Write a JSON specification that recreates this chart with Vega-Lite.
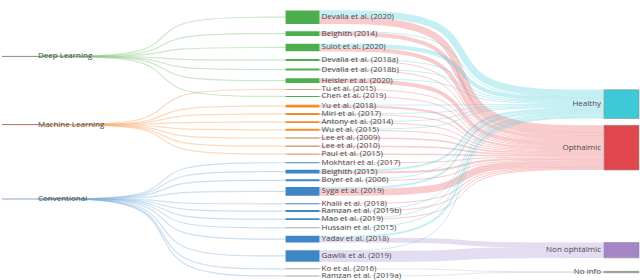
{
"$schema":"https://vega.github.io/schema/vega-lite/v6.json",
"width":640,"height":280,"padding":0,
"autosize":{"type":"fit","contains":"padding"},
"background":"white",
"config":{"view":{"stroke":null},"font":"Open Sans"},
"resolve":{"scale":{"color":"independent"}},
"datasets":{
"cats":[
{"c":"Deep Learning","x0":2,"x1":38,"xe":40,"y":48.3},
{"c":"Machine Learning","x0":2,"x1":38,"xe":40,"y":119.3},
{"c":"Conventional","x0":2,"x1":38,"xe":40,"y":196.7}
],
"outs":[
{"o":"Healthy","x0":605,"x1":640,"y0":83,"y1":113,"yc":98},
{"o":"Opthalmic","x0":605,"x1":640,"y0":120,"y1":166.5,"yc":143.25},
{"o":"Non ophtalmic","x0":605,"x1":640,"y0":242,"y1":258,"yc":250},
{"o":"No info","x0":605,"x1":640,"y0":272,"y1":273.5,"yc":272.75}
],
"papers":[
{"p":"Devalla et al. (2020)","g":"DL","x0":286,"x1":320,"y0":0.5,"y1":14.5,"yc":7.5},
{"p":"Belghith (2014)","g":"DL","x0":286,"x1":320,"y0":22,"y1":27,"yc":24.5},
{"p":"Sulot et al. (2020)","g":"DL","x0":286,"x1":320,"y0":35,"y1":43,"yc":39},
{"p":"Devalla et al. (2018a)","g":"DL","x0":286,"x1":320,"y0":51,"y1":53,"yc":52},
{"p":"Devalla et al. (2018b)","g":"DL","x0":286,"x1":320,"y0":61,"y1":63,"yc":62},
{"p":"Heisler et al. (2020)","g":"DL","x0":286,"x1":320,"y0":71,"y1":76,"yc":73.5},
{"p":"Tu et al. (2015)","g":"ML2","x0":286,"x1":320,"y0":82.2,"y1":83.2,"yc":82.7},
{"p":"Chen et al. (2019)","g":"DL","x0":286,"x1":320,"y0":89.5,"y1":90.5,"yc":90},
{"p":"Yu et al. (2018)","g":"ML","x0":286,"x1":320,"y0":98.5,"y1":101.5,"yc":100},
{"p":"Miri et al. (2017)","g":"ML","x0":286,"x1":320,"y0":107.3,"y1":109.3,"yc":108.3},
{"p":"Antony et al. (2014)","g":"ML","x0":286,"x1":320,"y0":115.7,"y1":117.7,"yc":116.7},
{"p":"Wu et al. (2015)","g":"ML","x0":286,"x1":320,"y0":123.7,"y1":125.7,"yc":124.7},
{"p":"Lee et al. (2009)","g":"ML2","x0":286,"x1":320,"y0":132.5,"y1":134,"yc":133.25},
{"p":"Lee et al. (2010)","g":"ML2","x0":286,"x1":320,"y0":141,"y1":142.5,"yc":141.75},
{"p":"Paul et al. (2015)","g":"ML2","x0":286,"x1":320,"y0":149.25,"y1":150.75,"yc":150},
{"p":"Mokhtari et al. (2017)","g":"CV","x0":286,"x1":320,"y0":158.5,"y1":159.5,"yc":159},
{"p":"Belghith (2015)","g":"CV","x0":286,"x1":320,"y0":166.3,"y1":170.3,"yc":168.3},
{"p":"Boyer et al. (2006)","g":"CV","x0":286,"x1":320,"y0":176.3,"y1":178.3,"yc":177.3},
{"p":"Syga et al. (2019)","g":"CV","x0":286,"x1":320,"y0":184.3,"y1":193.3,"yc":188.8},
{"p":"Khalil et al. (2018)","g":"CV","x0":286,"x1":320,"y0":201.2,"y1":202.2,"yc":201.7},
{"p":"Ramzan et al. (2019b)","g":"CV","x0":286,"x1":320,"y0":208.3,"y1":210.3,"yc":209.3},
{"p":"Mao et al. (2019)","g":"CV","x0":286,"x1":320,"y0":216.7,"y1":218.7,"yc":217.7},
{"p":"Hussain et al. (2015)","g":"NA","x0":286,"x1":320,"y0":226.2,"y1":227.2,"yc":226.7},
{"p":"Yadav et al. (2018)","g":"CV","x0":286,"x1":320,"y0":235,"y1":242,"yc":238.5},
{"p":"Gawlik et al. (2019)","g":"CV","x0":286,"x1":320,"y0":250,"y1":262,"yc":256},
{"p":"Ko et al. (2016)","g":"NA","x0":286,"x1":320,"y0":268.9,"y1":269.9,"yc":269.4},
{"p":"Ramzan et al. (2019a)","g":"NA","x0":286,"x1":320,"y0":276.3,"y1":277.3,"yc":276.8}
],
"left":[
{"id":"L1","s":0,"x":40,"y":48.3,"c":"Deep Learning"},{"id":"L1","s":1,"x":163,"y":48.3,"c":"Deep Learning"},{"id":"L1","s":2,"x":163,"y":7.5,"c":"Deep Learning"},{"id":"L1","s":3,"x":286,"y":7.5,"c":"Deep Learning"},
{"id":"L2","s":0,"x":40,"y":48.3,"c":"Deep Learning"},{"id":"L2","s":1,"x":163,"y":48.3,"c":"Deep Learning"},{"id":"L2","s":2,"x":163,"y":24.5,"c":"Deep Learning"},{"id":"L2","s":3,"x":286,"y":24.5,"c":"Deep Learning"},
{"id":"L3","s":0,"x":40,"y":48.3,"c":"Deep Learning"},{"id":"L3","s":1,"x":163,"y":48.3,"c":"Deep Learning"},{"id":"L3","s":2,"x":163,"y":39,"c":"Deep Learning"},{"id":"L3","s":3,"x":286,"y":39,"c":"Deep Learning"},
{"id":"L4","s":0,"x":40,"y":48.3,"c":"Deep Learning"},{"id":"L4","s":1,"x":163,"y":48.3,"c":"Deep Learning"},{"id":"L4","s":2,"x":163,"y":52,"c":"Deep Learning"},{"id":"L4","s":3,"x":286,"y":52,"c":"Deep Learning"},
{"id":"L5","s":0,"x":40,"y":48.3,"c":"Deep Learning"},{"id":"L5","s":1,"x":163,"y":48.3,"c":"Deep Learning"},{"id":"L5","s":2,"x":163,"y":62,"c":"Deep Learning"},{"id":"L5","s":3,"x":286,"y":62,"c":"Deep Learning"},
{"id":"L6","s":0,"x":40,"y":48.3,"c":"Deep Learning"},{"id":"L6","s":1,"x":163,"y":48.3,"c":"Deep Learning"},{"id":"L6","s":2,"x":163,"y":73.5,"c":"Deep Learning"},{"id":"L6","s":3,"x":286,"y":73.5,"c":"Deep Learning"},
{"id":"L7","s":0,"x":40,"y":48.3,"c":"Deep Learning"},{"id":"L7","s":1,"x":163,"y":48.3,"c":"Deep Learning"},{"id":"L7","s":2,"x":163,"y":90,"c":"Deep Learning"},{"id":"L7","s":3,"x":286,"y":90,"c":"Deep Learning"},
{"id":"L8","s":0,"x":40,"y":119.3,"c":"Machine Learning"},{"id":"L8","s":1,"x":163,"y":119.3,"c":"Machine Learning"},{"id":"L8","s":2,"x":163,"y":82.7,"c":"Machine Learning"},{"id":"L8","s":3,"x":286,"y":82.7,"c":"Machine Learning"},
{"id":"L9","s":0,"x":40,"y":119.3,"c":"Machine Learning"},{"id":"L9","s":1,"x":163,"y":119.3,"c":"Machine Learning"},{"id":"L9","s":2,"x":163,"y":100,"c":"Machine Learning"},{"id":"L9","s":3,"x":286,"y":100,"c":"Machine Learning"},
{"id":"L10","s":0,"x":40,"y":119.3,"c":"Machine Learning"},{"id":"L10","s":1,"x":163,"y":119.3,"c":"Machine Learning"},{"id":"L10","s":2,"x":163,"y":108.3,"c":"Machine Learning"},{"id":"L10","s":3,"x":286,"y":108.3,"c":"Machine Learning"},
{"id":"L11","s":0,"x":40,"y":119.3,"c":"Machine Learning"},{"id":"L11","s":1,"x":163,"y":119.3,"c":"Machine Learning"},{"id":"L11","s":2,"x":163,"y":116.7,"c":"Machine Learning"},{"id":"L11","s":3,"x":286,"y":116.7,"c":"Machine Learning"},
{"id":"L12","s":0,"x":40,"y":119.3,"c":"Machine Learning"},{"id":"L12","s":1,"x":163,"y":119.3,"c":"Machine Learning"},{"id":"L12","s":2,"x":163,"y":124.7,"c":"Machine Learning"},{"id":"L12","s":3,"x":286,"y":124.7,"c":"Machine Learning"},
{"id":"L13","s":0,"x":40,"y":119.3,"c":"Machine Learning"},{"id":"L13","s":1,"x":163,"y":119.3,"c":"Machine Learning"},{"id":"L13","s":2,"x":163,"y":133.25,"c":"Machine Learning"},{"id":"L13","s":3,"x":286,"y":133.25,"c":"Machine Learning"},
{"id":"L14","s":0,"x":40,"y":119.3,"c":"Machine Learning"},{"id":"L14","s":1,"x":163,"y":119.3,"c":"Machine Learning"},{"id":"L14","s":2,"x":163,"y":141.75,"c":"Machine Learning"},{"id":"L14","s":3,"x":286,"y":141.75,"c":"Machine Learning"},
{"id":"L15","s":0,"x":40,"y":119.3,"c":"Machine Learning"},{"id":"L15","s":1,"x":163,"y":119.3,"c":"Machine Learning"},{"id":"L15","s":2,"x":163,"y":150,"c":"Machine Learning"},{"id":"L15","s":3,"x":286,"y":150,"c":"Machine Learning"},
{"id":"L16","s":0,"x":40,"y":196.7,"c":"Conventional"},{"id":"L16","s":1,"x":163,"y":196.7,"c":"Conventional"},{"id":"L16","s":2,"x":163,"y":159,"c":"Conventional"},{"id":"L16","s":3,"x":286,"y":159,"c":"Conventional"},
{"id":"L17","s":0,"x":40,"y":196.7,"c":"Conventional"},{"id":"L17","s":1,"x":163,"y":196.7,"c":"Conventional"},{"id":"L17","s":2,"x":163,"y":168.3,"c":"Conventional"},{"id":"L17","s":3,"x":286,"y":168.3,"c":"Conventional"},
{"id":"L18","s":0,"x":40,"y":196.7,"c":"Conventional"},{"id":"L18","s":1,"x":163,"y":196.7,"c":"Conventional"},{"id":"L18","s":2,"x":163,"y":177.3,"c":"Conventional"},{"id":"L18","s":3,"x":286,"y":177.3,"c":"Conventional"},
{"id":"L19","s":0,"x":40,"y":196.7,"c":"Conventional"},{"id":"L19","s":1,"x":163,"y":196.7,"c":"Conventional"},{"id":"L19","s":2,"x":163,"y":188.8,"c":"Conventional"},{"id":"L19","s":3,"x":286,"y":188.8,"c":"Conventional"},
{"id":"L20","s":0,"x":40,"y":196.7,"c":"Conventional"},{"id":"L20","s":1,"x":163,"y":196.7,"c":"Conventional"},{"id":"L20","s":2,"x":163,"y":201.7,"c":"Conventional"},{"id":"L20","s":3,"x":286,"y":201.7,"c":"Conventional"},
{"id":"L21","s":0,"x":40,"y":196.7,"c":"Conventional"},{"id":"L21","s":1,"x":163,"y":196.7,"c":"Conventional"},{"id":"L21","s":2,"x":163,"y":209.3,"c":"Conventional"},{"id":"L21","s":3,"x":286,"y":209.3,"c":"Conventional"},
{"id":"L22","s":0,"x":40,"y":196.7,"c":"Conventional"},{"id":"L22","s":1,"x":163,"y":196.7,"c":"Conventional"},{"id":"L22","s":2,"x":163,"y":217.7,"c":"Conventional"},{"id":"L22","s":3,"x":286,"y":217.7,"c":"Conventional"},
{"id":"L23","s":0,"x":40,"y":196.7,"c":"Conventional"},{"id":"L23","s":1,"x":163,"y":196.7,"c":"Conventional"},{"id":"L23","s":2,"x":163,"y":226.7,"c":"Conventional"},{"id":"L23","s":3,"x":286,"y":226.7,"c":"Conventional"},
{"id":"L24","s":0,"x":40,"y":196.7,"c":"Conventional"},{"id":"L24","s":1,"x":163,"y":196.7,"c":"Conventional"},{"id":"L24","s":2,"x":163,"y":238.5,"c":"Conventional"},{"id":"L24","s":3,"x":286,"y":238.5,"c":"Conventional"},
{"id":"L25","s":0,"x":40,"y":196.7,"c":"Conventional"},{"id":"L25","s":1,"x":163,"y":196.7,"c":"Conventional"},{"id":"L25","s":2,"x":163,"y":256,"c":"Conventional"},{"id":"L25","s":3,"x":286,"y":256,"c":"Conventional"},
{"id":"L26","s":0,"x":40,"y":196.7,"c":"Conventional"},{"id":"L26","s":1,"x":163,"y":196.7,"c":"Conventional"},{"id":"L26","s":2,"x":163,"y":269.4,"c":"Conventional"},{"id":"L26","s":3,"x":286,"y":269.4,"c":"Conventional"},
{"id":"L27","s":0,"x":40,"y":196.7,"c":"Conventional"},{"id":"L27","s":1,"x":163,"y":196.7,"c":"Conventional"},{"id":"L27","s":2,"x":163,"y":276.8,"c":"Conventional"},{"id":"L27","s":3,"x":286,"y":276.8,"c":"Conventional"}
],
"right":[
{"id":"R1","s":0,"x":320,"y":4,"v":7,"t":"Healthy"},{"id":"R1","s":1,"x":462.5,"y":4,"v":7,"t":"Healthy"},{"id":"R1","s":2,"x":462.5,"y":86.5,"v":7,"t":"Healthy"},{"id":"R1","s":3,"x":605,"y":86.5,"v":7,"t":"Healthy"},
{"id":"R2","s":0,"x":320,"y":11,"v":7,"t":"Opthalmic"},{"id":"R2","s":1,"x":462.5,"y":11,"v":7,"t":"Opthalmic"},{"id":"R2","s":2,"x":462.5,"y":123.5,"v":7,"t":"Opthalmic"},{"id":"R2","s":3,"x":605,"y":123.5,"v":7,"t":"Opthalmic"},
{"id":"R3","s":0,"x":320,"y":22.5,"v":1,"t":"Healthy"},{"id":"R3","s":1,"x":462.5,"y":22.5,"v":1,"t":"Healthy"},{"id":"R3","s":2,"x":462.5,"y":90.5,"v":1,"t":"Healthy"},{"id":"R3","s":3,"x":605,"y":90.5,"v":1,"t":"Healthy"},
{"id":"R4","s":0,"x":320,"y":25,"v":4,"t":"Opthalmic"},{"id":"R4","s":1,"x":462.5,"y":25,"v":4,"t":"Opthalmic"},{"id":"R4","s":2,"x":462.5,"y":129,"v":4,"t":"Opthalmic"},{"id":"R4","s":3,"x":605,"y":129,"v":4,"t":"Opthalmic"},
{"id":"R5","s":0,"x":320,"y":37,"v":4,"t":"Healthy"},{"id":"R5","s":1,"x":462.5,"y":37,"v":4,"t":"Healthy"},{"id":"R5","s":2,"x":462.5,"y":93,"v":4,"t":"Healthy"},{"id":"R5","s":3,"x":605,"y":93,"v":4,"t":"Healthy"},
{"id":"R6","s":0,"x":320,"y":41,"v":4,"t":"Opthalmic"},{"id":"R6","s":1,"x":462.5,"y":41,"v":4,"t":"Opthalmic"},{"id":"R6","s":2,"x":462.5,"y":133,"v":4,"t":"Opthalmic"},{"id":"R6","s":3,"x":605,"y":133,"v":4,"t":"Opthalmic"},
{"id":"R7","s":0,"x":320,"y":51.5,"v":1,"t":"Healthy"},{"id":"R7","s":1,"x":462.5,"y":51.5,"v":1,"t":"Healthy"},{"id":"R7","s":2,"x":462.5,"y":95.5,"v":1,"t":"Healthy"},{"id":"R7","s":3,"x":605,"y":95.5,"v":1,"t":"Healthy"},
{"id":"R8","s":0,"x":320,"y":52.5,"v":1,"t":"Opthalmic"},{"id":"R8","s":1,"x":462.5,"y":52.5,"v":1,"t":"Opthalmic"},{"id":"R8","s":2,"x":462.5,"y":135.5,"v":1,"t":"Opthalmic"},{"id":"R8","s":3,"x":605,"y":135.5,"v":1,"t":"Opthalmic"},
{"id":"R9","s":0,"x":320,"y":61.5,"v":1,"t":"Healthy"},{"id":"R9","s":1,"x":462.5,"y":61.5,"v":1,"t":"Healthy"},{"id":"R9","s":2,"x":462.5,"y":96.5,"v":1,"t":"Healthy"},{"id":"R9","s":3,"x":605,"y":96.5,"v":1,"t":"Healthy"},
{"id":"R10","s":0,"x":320,"y":62.5,"v":1,"t":"Opthalmic"},{"id":"R10","s":1,"x":462.5,"y":62.5,"v":1,"t":"Opthalmic"},{"id":"R10","s":2,"x":462.5,"y":136.5,"v":1,"t":"Opthalmic"},{"id":"R10","s":3,"x":605,"y":136.5,"v":1,"t":"Opthalmic"},
{"id":"R11","s":0,"x":320,"y":71.5,"v":1,"t":"Healthy"},{"id":"R11","s":1,"x":462.5,"y":71.5,"v":1,"t":"Healthy"},{"id":"R11","s":2,"x":462.5,"y":97.5,"v":1,"t":"Healthy"},{"id":"R11","s":3,"x":605,"y":97.5,"v":1,"t":"Healthy"},
{"id":"R12","s":0,"x":320,"y":74,"v":4,"t":"Opthalmic"},{"id":"R12","s":1,"x":462.5,"y":74,"v":4,"t":"Opthalmic"},{"id":"R12","s":2,"x":462.5,"y":139,"v":4,"t":"Opthalmic"},{"id":"R12","s":3,"x":605,"y":139,"v":4,"t":"Opthalmic"},
{"id":"R13","s":0,"x":320,"y":82.7,"v":1,"t":"Opthalmic"},{"id":"R13","s":1,"x":462.5,"y":82.7,"v":1,"t":"Opthalmic"},{"id":"R13","s":2,"x":462.5,"y":141.5,"v":1,"t":"Opthalmic"},{"id":"R13","s":3,"x":605,"y":141.5,"v":1,"t":"Opthalmic"},
{"id":"R14","s":0,"x":320,"y":90,"v":1,"t":"Opthalmic"},{"id":"R14","s":1,"x":462.5,"y":90,"v":1,"t":"Opthalmic"},{"id":"R14","s":2,"x":462.5,"y":142.5,"v":1,"t":"Opthalmic"},{"id":"R14","s":3,"x":605,"y":142.5,"v":1,"t":"Opthalmic"},
{"id":"R15","s":0,"x":320,"y":99,"v":1,"t":"Healthy"},{"id":"R15","s":1,"x":462.5,"y":99,"v":1,"t":"Healthy"},{"id":"R15","s":2,"x":462.5,"y":98.5,"v":1,"t":"Healthy"},{"id":"R15","s":3,"x":605,"y":98.5,"v":1,"t":"Healthy"},
{"id":"R16","s":0,"x":320,"y":100.5,"v":2,"t":"Opthalmic"},{"id":"R16","s":1,"x":462.5,"y":100.5,"v":2,"t":"Opthalmic"},{"id":"R16","s":2,"x":462.5,"y":144,"v":2,"t":"Opthalmic"},{"id":"R16","s":3,"x":605,"y":144,"v":2,"t":"Opthalmic"},
{"id":"R17","s":0,"x":320,"y":107.8,"v":1,"t":"Healthy"},{"id":"R17","s":1,"x":462.5,"y":107.8,"v":1,"t":"Healthy"},{"id":"R17","s":2,"x":462.5,"y":99.5,"v":1,"t":"Healthy"},{"id":"R17","s":3,"x":605,"y":99.5,"v":1,"t":"Healthy"},
{"id":"R18","s":0,"x":320,"y":108.8,"v":1,"t":"Opthalmic"},{"id":"R18","s":1,"x":462.5,"y":108.8,"v":1,"t":"Opthalmic"},{"id":"R18","s":2,"x":462.5,"y":145.5,"v":1,"t":"Opthalmic"},{"id":"R18","s":3,"x":605,"y":145.5,"v":1,"t":"Opthalmic"},
{"id":"R19","s":0,"x":320,"y":116.2,"v":1,"t":"Healthy"},{"id":"R19","s":1,"x":462.5,"y":116.2,"v":1,"t":"Healthy"},{"id":"R19","s":2,"x":462.5,"y":100.5,"v":1,"t":"Healthy"},{"id":"R19","s":3,"x":605,"y":100.5,"v":1,"t":"Healthy"},
{"id":"R20","s":0,"x":320,"y":117.2,"v":1,"t":"Opthalmic"},{"id":"R20","s":1,"x":462.5,"y":117.2,"v":1,"t":"Opthalmic"},{"id":"R20","s":2,"x":462.5,"y":146.5,"v":1,"t":"Opthalmic"},{"id":"R20","s":3,"x":605,"y":146.5,"v":1,"t":"Opthalmic"},
{"id":"R21","s":0,"x":320,"y":124.2,"v":1,"t":"Healthy"},{"id":"R21","s":1,"x":462.5,"y":124.2,"v":1,"t":"Healthy"},{"id":"R21","s":2,"x":462.5,"y":101.5,"v":1,"t":"Healthy"},{"id":"R21","s":3,"x":605,"y":101.5,"v":1,"t":"Healthy"},
{"id":"R22","s":0,"x":320,"y":125.2,"v":1,"t":"Opthalmic"},{"id":"R22","s":1,"x":462.5,"y":125.2,"v":1,"t":"Opthalmic"},{"id":"R22","s":2,"x":462.5,"y":147.5,"v":1,"t":"Opthalmic"},{"id":"R22","s":3,"x":605,"y":147.5,"v":1,"t":"Opthalmic"},
{"id":"R23","s":0,"x":320,"y":133.25,"v":1.5,"t":"Opthalmic"},{"id":"R23","s":1,"x":462.5,"y":133.25,"v":1.5,"t":"Opthalmic"},{"id":"R23","s":2,"x":462.5,"y":148.75,"v":1.5,"t":"Opthalmic"},{"id":"R23","s":3,"x":605,"y":148.75,"v":1.5,"t":"Opthalmic"},
{"id":"R24","s":0,"x":320,"y":141.75,"v":1.5,"t":"Opthalmic"},{"id":"R24","s":1,"x":462.5,"y":141.75,"v":1.5,"t":"Opthalmic"},{"id":"R24","s":2,"x":462.5,"y":150.25,"v":1.5,"t":"Opthalmic"},{"id":"R24","s":3,"x":605,"y":150.25,"v":1.5,"t":"Opthalmic"},
{"id":"R25","s":0,"x":320,"y":150,"v":1.5,"t":"Opthalmic"},{"id":"R25","s":1,"x":462.5,"y":150,"v":1.5,"t":"Opthalmic"},{"id":"R25","s":2,"x":462.5,"y":151.75,"v":1.5,"t":"Opthalmic"},{"id":"R25","s":3,"x":605,"y":151.75,"v":1.5,"t":"Opthalmic"},
{"id":"R26","s":0,"x":320,"y":159,"v":1,"t":"Opthalmic"},{"id":"R26","s":1,"x":462.5,"y":159,"v":1,"t":"Opthalmic"},{"id":"R26","s":2,"x":462.5,"y":153,"v":1,"t":"Opthalmic"},{"id":"R26","s":3,"x":605,"y":153,"v":1,"t":"Opthalmic"},
{"id":"R27","s":0,"x":320,"y":167.3,"v":2,"t":"Healthy"},{"id":"R27","s":1,"x":462.5,"y":167.3,"v":2,"t":"Healthy"},{"id":"R27","s":2,"x":462.5,"y":103,"v":2,"t":"Healthy"},{"id":"R27","s":3,"x":605,"y":103,"v":2,"t":"Healthy"},
{"id":"R28","s":0,"x":320,"y":169.3,"v":2,"t":"Opthalmic"},{"id":"R28","s":1,"x":462.5,"y":169.3,"v":2,"t":"Opthalmic"},{"id":"R28","s":2,"x":462.5,"y":154.5,"v":2,"t":"Opthalmic"},{"id":"R28","s":3,"x":605,"y":154.5,"v":2,"t":"Opthalmic"},
{"id":"R29","s":0,"x":320,"y":176.8,"v":1,"t":"Healthy"},{"id":"R29","s":1,"x":462.5,"y":176.8,"v":1,"t":"Healthy"},{"id":"R29","s":2,"x":462.5,"y":104.5,"v":1,"t":"Healthy"},{"id":"R29","s":3,"x":605,"y":104.5,"v":1,"t":"Healthy"},
{"id":"R30","s":0,"x":320,"y":177.8,"v":1,"t":"Opthalmic"},{"id":"R30","s":1,"x":462.5,"y":177.8,"v":1,"t":"Opthalmic"},{"id":"R30","s":2,"x":462.5,"y":156,"v":1,"t":"Opthalmic"},{"id":"R30","s":3,"x":605,"y":156,"v":1,"t":"Opthalmic"},
{"id":"R31","s":0,"x":320,"y":185.3,"v":2,"t":"Healthy"},{"id":"R31","s":1,"x":462.5,"y":185.3,"v":2,"t":"Healthy"},{"id":"R31","s":2,"x":462.5,"y":106,"v":2,"t":"Healthy"},{"id":"R31","s":3,"x":605,"y":106,"v":2,"t":"Healthy"},
{"id":"R32","s":0,"x":320,"y":189.8,"v":7,"t":"Opthalmic"},{"id":"R32","s":1,"x":462.5,"y":189.8,"v":7,"t":"Opthalmic"},{"id":"R32","s":2,"x":462.5,"y":160,"v":7,"t":"Opthalmic"},{"id":"R32","s":3,"x":605,"y":160,"v":7,"t":"Opthalmic"},
{"id":"R33","s":0,"x":320,"y":201.7,"v":1,"t":"Opthalmic"},{"id":"R33","s":1,"x":462.5,"y":201.7,"v":1,"t":"Opthalmic"},{"id":"R33","s":2,"x":462.5,"y":164,"v":1,"t":"Opthalmic"},{"id":"R33","s":3,"x":605,"y":164,"v":1,"t":"Opthalmic"},
{"id":"R34","s":0,"x":320,"y":208.8,"v":1,"t":"Healthy"},{"id":"R34","s":1,"x":462.5,"y":208.8,"v":1,"t":"Healthy"},{"id":"R34","s":2,"x":462.5,"y":107.5,"v":1,"t":"Healthy"},{"id":"R34","s":3,"x":605,"y":107.5,"v":1,"t":"Healthy"},
{"id":"R35","s":0,"x":320,"y":209.8,"v":1,"t":"Opthalmic"},{"id":"R35","s":1,"x":462.5,"y":209.8,"v":1,"t":"Opthalmic"},{"id":"R35","s":2,"x":462.5,"y":165,"v":1,"t":"Opthalmic"},{"id":"R35","s":3,"x":605,"y":165,"v":1,"t":"Opthalmic"},
{"id":"R36","s":0,"x":320,"y":217.2,"v":1,"t":"Healthy"},{"id":"R36","s":1,"x":462.5,"y":217.2,"v":1,"t":"Healthy"},{"id":"R36","s":2,"x":462.5,"y":108.5,"v":1,"t":"Healthy"},{"id":"R36","s":3,"x":605,"y":108.5,"v":1,"t":"Healthy"},
{"id":"R37","s":0,"x":320,"y":218.2,"v":1,"t":"Opthalmic"},{"id":"R37","s":1,"x":462.5,"y":218.2,"v":1,"t":"Opthalmic"},{"id":"R37","s":2,"x":462.5,"y":166,"v":1,"t":"Opthalmic"},{"id":"R37","s":3,"x":605,"y":166,"v":1,"t":"Opthalmic"},
{"id":"R38","s":0,"x":320,"y":226.7,"v":1,"t":"Healthy"},{"id":"R38","s":1,"x":462.5,"y":226.7,"v":1,"t":"Healthy"},{"id":"R38","s":2,"x":462.5,"y":109.5,"v":1,"t":"Healthy"},{"id":"R38","s":3,"x":605,"y":109.5,"v":1,"t":"Healthy"},
{"id":"R39","s":0,"x":320,"y":236,"v":2,"t":"Healthy"},{"id":"R39","s":1,"x":462.5,"y":236,"v":2,"t":"Healthy"},{"id":"R39","s":2,"x":462.5,"y":111,"v":2,"t":"Healthy"},{"id":"R39","s":3,"x":605,"y":111,"v":2,"t":"Healthy"},
{"id":"R40","s":0,"x":320,"y":239.5,"v":5,"t":"Non ophtalmic"},{"id":"R40","s":1,"x":462.5,"y":239.5,"v":5,"t":"Non ophtalmic"},{"id":"R40","s":2,"x":462.5,"y":244.5,"v":5,"t":"Non ophtalmic"},{"id":"R40","s":3,"x":605,"y":244.5,"v":5,"t":"Non ophtalmic"},
{"id":"R41","s":0,"x":320,"y":250.5,"v":1,"t":"Healthy"},{"id":"R41","s":1,"x":462.5,"y":250.5,"v":1,"t":"Healthy"},{"id":"R41","s":2,"x":462.5,"y":112.5,"v":1,"t":"Healthy"},{"id":"R41","s":3,"x":605,"y":112.5,"v":1,"t":"Healthy"},
{"id":"R42","s":0,"x":320,"y":256.5,"v":11,"t":"Non ophtalmic"},{"id":"R42","s":1,"x":462.5,"y":256.5,"v":11,"t":"Non ophtalmic"},{"id":"R42","s":2,"x":462.5,"y":252.5,"v":11,"t":"Non ophtalmic"},{"id":"R42","s":3,"x":605,"y":252.5,"v":11,"t":"Non ophtalmic"},
{"id":"R43","s":0,"x":320,"y":269.4,"v":0.75,"t":"No info"},{"id":"R43","s":1,"x":462.5,"y":269.4,"v":0.75,"t":"No info"},{"id":"R43","s":2,"x":462.5,"y":272.4,"v":0.75,"t":"No info"},{"id":"R43","s":3,"x":605,"y":272.4,"v":0.75,"t":"No info"},
{"id":"R44","s":0,"x":320,"y":276.8,"v":0.75,"t":"No info"},{"id":"R44","s":1,"x":462.5,"y":276.8,"v":0.75,"t":"No info"},{"id":"R44","s":2,"x":462.5,"y":273.1,"v":0.75,"t":"No info"},{"id":"R44","s":3,"x":605,"y":273.1,"v":0.75,"t":"No info"}
]
},
"layer":[
{"data":{"name":"left"},
 "mark":{"type":"line","interpolate":"basis","strokeWidth":1.2,"opacity":0.4},
 "encoding":{
  "x":{"field":"x","type":"quantitative","scale":{"domain":[0,640],"nice":false,"zero":false},"axis":null},
  "y":{"field":"y","type":"quantitative","scale":{"domain":[0,280],"nice":false,"zero":false,"reverse":true},"axis":null},
  "detail":{"field":"id"},
  "order":{"field":"s","type":"quantitative"},
  "color":{"field":"c","type":"nominal","scale":{"domain":["Deep Learning","Machine Learning","Conventional"],"range":["#7cc576","#f7a35c","#7fb0da"]},"legend":null}}},
{"data":{"name":"right"},
 "mark":{"type":"line","interpolate":"basis","opacity":0.3,"strokeCap":"butt"},
 "encoding":{
  "x":{"field":"x","type":"quantitative","scale":{"domain":[0,640],"nice":false,"zero":false},"axis":null},
  "y":{"field":"y","type":"quantitative","scale":{"domain":[0,280],"nice":false,"zero":false,"reverse":true},"axis":null},
  "detail":{"field":"id"},
  "order":{"field":"s","type":"quantitative"},
  "strokeWidth":{"field":"v","type":"quantitative","scale":{"type":"linear","domain":[0,10],"range":[0,10],"zero":true},"legend":null},
  "color":{"field":"t","type":"nominal","scale":{"domain":["Healthy","Opthalmic","Non ophtalmic","No info"],"range":["#3ec9d6","#e8555b","#a58bd0","#8a8a8a"]},"legend":null}}},
{"data":{"name":"cats"},
 "mark":{"type":"rule","strokeWidth":1},
 "encoding":{
  "x":{"field":"x0","type":"quantitative","scale":{"domain":[0,640],"nice":false,"zero":false},"axis":null},
  "x2":{"field":"xe"},
  "y":{"field":"y","type":"quantitative","scale":{"domain":[0,280],"nice":false,"zero":false,"reverse":true},"axis":null},
  "color":{"field":"c","type":"nominal","scale":{"domain":["Deep Learning","Machine Learning","Conventional"],"range":["#8a8a8a","#b86a62","#8aa2bd"]},"legend":null}}},
{"data":{"name":"papers"},
 "mark":{"type":"rect"},
 "encoding":{
  "x":{"field":"x0","type":"quantitative","scale":{"domain":[0,640],"nice":false,"zero":false},"axis":null},
  "x2":{"field":"x1"},
  "y":{"field":"y0","type":"quantitative","scale":{"domain":[0,280],"nice":false,"zero":false,"reverse":true},"axis":null},
  "y2":{"field":"y1"},
  "color":{"field":"g","type":"nominal","scale":{"domain":["DL","ML","ML2","CV","NA"],"range":["#4cae4c","#f28a2e","#d6a47c","#3f86c4","#a8a8a8"]},"legend":null}}},
{"data":{"name":"outs"},
 "mark":{"type":"rect","stroke":"#8c8c8c","strokeWidth":0.6},
 "encoding":{
  "x":{"field":"x0","type":"quantitative","scale":{"domain":[0,640],"nice":false,"zero":false},"axis":null},
  "x2":{"field":"x1"},
  "y":{"field":"y0","type":"quantitative","scale":{"domain":[0,280],"nice":false,"zero":false,"reverse":true},"axis":null},
  "y2":{"field":"y1"},
  "color":{"field":"o","type":"nominal","scale":{"domain":["Healthy","Opthalmic","Non ophtalmic","No info"],"range":["#3ec9d6","#e0464e","#a584c8","#9a9a9a"]},"legend":null}}},
{"data":{"name":"papers"},
 "mark":{"type":"text","align":"left","baseline":"middle","dx":2,"fontSize":8,"font":"Open Sans","color":"#4a4a4a"},
 "encoding":{
  "x":{"field":"x1","type":"quantitative","scale":{"domain":[0,640],"nice":false,"zero":false},"axis":null},
  "y":{"field":"yc","type":"quantitative","scale":{"domain":[0,280],"nice":false,"zero":false,"reverse":true},"axis":null},
  "text":{"field":"p"}}},
{"data":{"name":"cats"},
 "mark":{"type":"text","align":"left","baseline":"middle","fontSize":8,"font":"Open Sans","color":"#4a4a4a"},
 "encoding":{
  "x":{"field":"x1","type":"quantitative","scale":{"domain":[0,640],"nice":false,"zero":false},"axis":null},
  "y":{"field":"y","type":"quantitative","scale":{"domain":[0,280],"nice":false,"zero":false,"reverse":true},"axis":null},
  "text":{"field":"c"}}},
{"data":{"name":"outs"},
 "mark":{"type":"text","align":"right","baseline":"middle","dx":-3,"fontSize":8,"font":"Open Sans","color":"#4a4a4a"},
 "encoding":{
  "x":{"field":"x0","type":"quantitative","scale":{"domain":[0,640],"nice":false,"zero":false},"axis":null},
  "y":{"field":"yc","type":"quantitative","scale":{"domain":[0,280],"nice":false,"zero":false,"reverse":true},"axis":null},
  "text":{"field":"o"}}}
]
}
